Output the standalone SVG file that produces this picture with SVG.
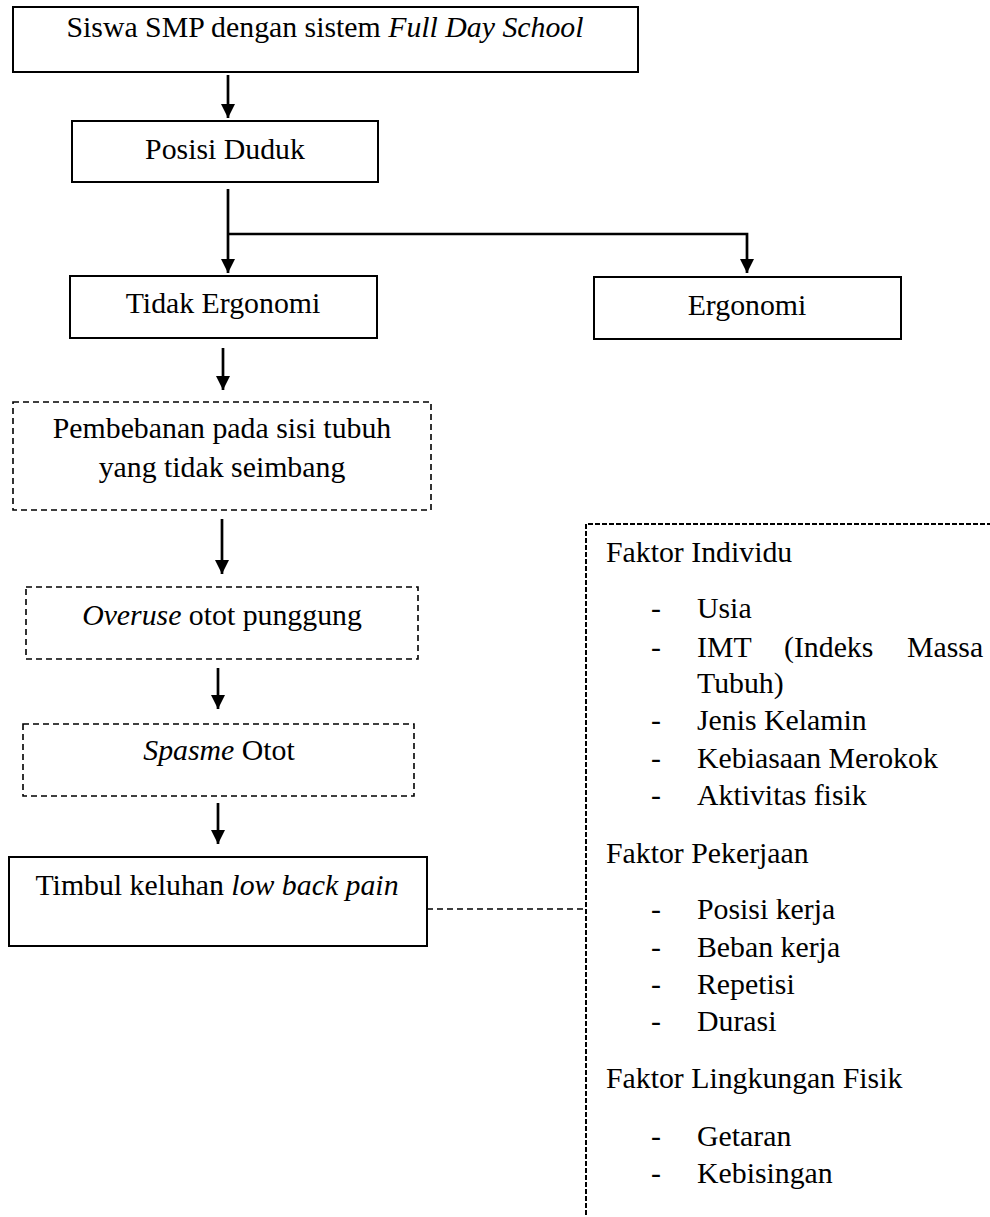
<svg xmlns="http://www.w3.org/2000/svg" width="990" height="1217" viewBox="0 0 990 1217">
<style>
text{font-family:"Liberation Serif","Times New Roman",serif;font-size:29.8px;fill:#000}
.c{text-anchor:middle}
.i{font-style:italic}
.box{fill:#fff;stroke:#000;stroke-width:2}
.dbox{fill:#fff;stroke:#000;stroke-width:1.6;stroke-dasharray:6 4}
.arr{fill:none;stroke:#000;stroke-width:2.7}
</style>
<defs>
<marker id="ah" viewBox="0 0 14 14" refX="14" refY="7" markerWidth="14" markerHeight="14" markerUnits="userSpaceOnUse" orient="auto">
<path d="M0,0 L14,7 L0,14 z" fill="#000"/>
</marker>
</defs>
<rect width="990" height="1217" fill="#fff"/>
<g id="connectors">
<path class="arr" d="M228,75 V118" marker-end="url(#ah)"/>
<path class="arr" d="M228,189 V273" marker-end="url(#ah)"/>
<path class="arr" d="M228,234 H747 V273" marker-end="url(#ah)"/>
<path class="arr" d="M223,348 V390" marker-end="url(#ah)"/>
<path class="arr" d="M222,519 V574" marker-end="url(#ah)"/>
<path class="arr" d="M218,668 V709" marker-end="url(#ah)"/>
<path class="arr" d="M218,803 V844" marker-end="url(#ah)"/>
<path d="M427,909 H586" fill="none" stroke="#000" stroke-width="1.6" stroke-dasharray="6 4"/>
</g>
<g id="n-siswa">
<rect class="box" x="13" y="7" width="625" height="65"/>
<text class="c" x="325" y="37">Siswa SMP dengan sistem <tspan class="i">Full Day School</tspan></text>
</g>
<g id="n-posisi">
<rect class="box" x="72" y="121" width="306" height="61"/>
<text class="c" x="225" y="159">Posisi Duduk</text>
</g>
<g id="n-tidak">
<rect class="box" x="70" y="276" width="307" height="62"/>
<text class="c" x="223" y="313">Tidak Ergonomi</text>
</g>
<g id="n-ergonomi">
<rect class="box" x="594" y="277" width="307" height="62"/>
<text class="c" x="747" y="315">Ergonomi</text>
</g>
<g id="n-pembebanan">
<rect class="dbox" x="13" y="402" width="418" height="108"/>
<text class="c" x="222" y="438">Pembebanan pada sisi tubuh</text>
<text class="c" x="222" y="477">yang tidak seimbang</text>
</g>
<g id="n-overuse">
<rect class="dbox" x="26" y="587" width="392" height="72"/>
<text class="c" x="222" y="625"><tspan class="i">Overuse</tspan> otot punggung</text>
</g>
<g id="n-spasme">
<rect class="dbox" x="23" y="724" width="391" height="72"/>
<text class="c" x="219" y="760"><tspan class="i">Spasme</tspan> Otot</text>
</g>
<g id="n-timbul">
<rect class="box" x="9" y="857" width="418" height="89"/>
<text class="c" x="217" y="895">Timbul keluhan <tspan class="i">low back pain</tspan></text>
</g>
<g id="n-faktor">
<path d="M992,524 H586 V1220" fill="none" stroke="#000" stroke-width="2" stroke-dasharray="5 2"/>
<text x="606" y="562">Faktor Individu</text>
<text x="651" y="618">-</text><text x="697" y="618">Usia</text>
<text x="651" y="657">-</text><text x="697" y="657">IMT</text><text x="784" y="657">(Indeks</text><text x="907" y="657">Massa</text>
<text x="697" y="693">Tubuh)</text>
<text x="651" y="730">-</text><text x="697" y="730">Jenis Kelamin</text>
<text x="651" y="768">-</text><text x="697" y="768">Kebiasaan Merokok</text>
<text x="651" y="805">-</text><text x="697" y="805">Aktivitas fisik</text>
<text x="606" y="863">Faktor Pekerjaan</text>
<text x="651" y="919">-</text><text x="697" y="919">Posisi kerja</text>
<text x="651" y="957">-</text><text x="697" y="957">Beban kerja</text>
<text x="651" y="994">-</text><text x="697" y="994">Repetisi</text>
<text x="651" y="1031">-</text><text x="697" y="1031">Durasi</text>
<text x="606" y="1088">Faktor Lingkungan Fisik</text>
<text x="651" y="1146">-</text><text x="697" y="1146">Getaran</text>
<text x="651" y="1183">-</text><text x="697" y="1183">Kebisingan</text>
</g>
</svg>
